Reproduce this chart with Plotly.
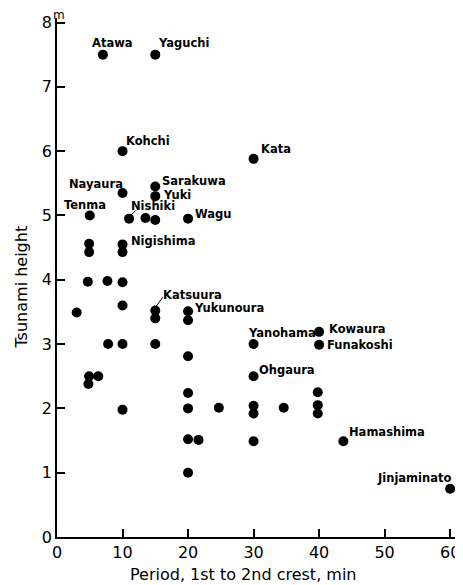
import plotly.graph_objects as go

# ---- data ----
period = [7, 15, 10, 30, 15, 15, 10, 5, 11, 13.5, 15, 20,
          4.9, 4.9, 10, 10, 4.7, 7.7, 10, 3, 10, 15, 15, 20, 20,
          7.8, 10, 15, 20, 30, 40, 40, 30, 4.9, 4.8, 6.3, 10,
          20, 20, 20, 21.6, 20, 24.7, 30, 30, 34.6, 39.8, 39.8, 39.8,
          30, 43.7, 60]
height = [7.5, 7.5, 6.0, 5.88, 5.45, 5.3, 5.35, 5.0, 4.95, 4.96, 4.93, 4.95,
          4.56, 4.43, 4.55, 4.43, 3.97, 3.98, 3.96, 3.49, 3.6, 3.52, 3.4, 3.51, 3.37,
          3.0, 3.0, 3.0, 2.81, 3.0, 3.19, 2.99, 2.5, 2.5, 2.38, 2.5, 1.98,
          2.24, 2.0, 1.52, 1.51, 1.0, 2.01, 2.04, 1.92, 2.01, 2.25, 2.05, 1.92,
          1.49, 1.49, 0.75]
names = ["Atawa", "Yaguchi", "Kohchi", "Kata", "Sarakuwa", "Yuki", "Nayaura", "Tenma",
         "Nishiki", "", "", "Wagu",
         "", "", "Nigishima", "", "", "", "", "", "", "Katsuura", "", "Yukunoura", "",
         "", "", "", "", "Yanohama", "Kowaura", "Funakoshi", "Ohgaura", "", "", "", "",
         "", "", "", "", "", "", "", "", "", "", "", "",
         "", "Hamashima", "Jinjaminato"]
x_ticks = [0, 10, 20, 30, 40, 50, 60]
y_ticks = [0, 1, 2, 3, 4, 5, 6, 7, 8]
x_title = "Period, 1st to 2nd crest, min"
y_title = "Tsunami height"
y_unit = "m"

# ---- label placement (pixel offsets from each point) ----
label_pos = {
    "Atawa": ("center", 10, 12),
    "Yaguchi": ("left", 1, 12),
    "Kohchi": ("left", 1, 10),
    "Kata": ("left", 5, 10),
    "Sarakuwa": ("left", 5, 6),
    "Yuki": ("left", 6, 1),
    "Nayaura": ("right", 2, 9),
    "Tenma": ("center", -5, 10),
    "Nishiki": ("left", 0, 13),
    "Wagu": ("left", 5, 5),
    "Nigishima": ("left", 6, 3),
    "Katsuura": ("left", 6, 16),
    "Yukunoura": ("left", 4, 3),
    "Yanohama": ("left", -8, 11),
    "Kowaura": ("left", 8, 3),
    "Funakoshi": ("left", 6, 0),
    "Ohgaura": ("left", 3, 6),
    "Hamashima": ("left", 4, 9),
    "Jinjaminato": ("right", 3, 11),
}
leaders = {"Nishiki": (1.8, 3.3, 6.8, 8.3), "Katsuura": (0.7, 4.0, 7.4, 13.3)}

FONT = "DejaVu Sans"

fig = go.Figure()
fig.add_trace(go.Scatter(
    x=period, y=height, mode="markers",
    marker=dict(size=10, color="black", line=dict(width=0)),
    cliponaxis=False, showlegend=False, hoverinfo="skip"))

annotations = []
shapes = []
for xv, yv, nm in zip(period, height, names):
    if not nm:
        continue
    anchor, dx, dy = label_pos[nm]
    annotations.append(dict(
        x=xv, y=yv, xref="x", yref="y", text=nm, showarrow=False,
        xanchor=anchor, yanchor="middle", xshift=dx, yshift=dy,
        font=dict(family=FONT, size=11.5, color="black", weight="bold")))
    if nm in leaders:
        x0, y0, x1, y1 = leaders[nm]
        shapes.append(dict(
            type="line", xref="x", yref="y", xsizemode="pixel", ysizemode="pixel",
            xanchor=xv, yanchor=yv, x0=x0, y0=y0, x1=x1, y1=y1,
            line=dict(color="black", width=1)))

annotations.append(dict(
    x=0, y=1, xref="x", yref="paper", text=y_unit, showarrow=False,
    xanchor="center", yanchor="middle", xshift=2, yshift=3,
    font=dict(family=FONT, size=12, color="black")))
annotations.append(dict(
    x=0.5, y=0, xref="paper", yref="paper", text=x_title, showarrow=False,
    xanchor="center", yanchor="middle", xshift=-15, yshift=-37,
    font=dict(family=FONT, size=16, color="black")))
annotations.append(dict(
    x=0, y=0.5, xref="paper", yref="paper", text=y_title, showarrow=False,
    xanchor="center", yanchor="middle", xshift=-36, yshift=-10, textangle=-90,
    font=dict(family=FONT, size=16, color="black")))

axis_common = dict(
    showgrid=False, zeroline=False, showline=True, linecolor="black", linewidth=1.5,
    ticks="inside", ticklen=8, tickwidth=1.5, tickcolor="black", automargin=False,
    tickfont=dict(family=FONT, size=16, color="black"))

# page body has an 8px default margin, so the figure is sized to fill the rest
fig.update_layout(
    width=455, height=577,
    margin=dict(l=49, r=5, t=10, b=48),
    paper_bgcolor="white", plot_bgcolor="white",
    xaxis=dict(range=[0, 61.2], tickvals=x_ticks, **axis_common),
    yaxis=dict(range=[0, 8.07], tickvals=y_ticks, **axis_common),
    annotations=annotations, shapes=shapes)

fig.write_html("out.html")
